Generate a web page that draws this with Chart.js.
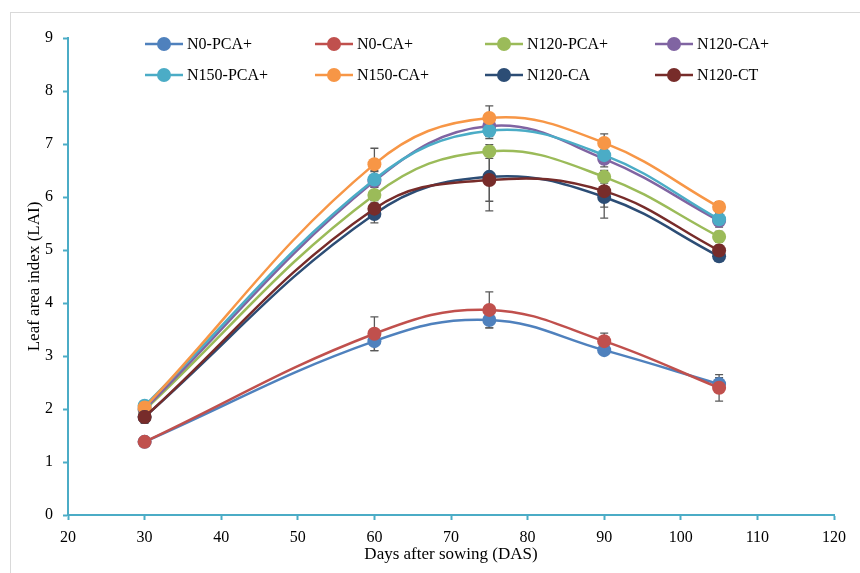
<!DOCTYPE html>
<html>
<head>
<meta charset="utf-8">
<script src="https://cdn.jsdelivr.net/npm/chart.js@4"></script>
<style>
  html, body { margin: 0; padding: 0; background: #fff; }
  #wrap { position: relative; width: 860px; height: 573px; }
</style>
</head>
<body>
<div id="wrap"><canvas id="laiChart" width="860" height="573"></canvas></div>
<script>
// days after sowing
const days = [30, 60, 75, 90, 105];

const seriesNames = ['N0-PCA+', 'N0-CA+', 'N120-PCA+', 'N120-CA+', 'N150-PCA+', 'N150-CA+', 'N120-CA', 'N120-CT'];
const seriesColors = ['#4F81BD', '#C0504D', '#9BBB59', '#8064A2', '#4BACC6', '#F79646', '#2C4D75', '#772C2A'];

// LAI values
const n0Pca = [1.38, 3.28, 3.68, 3.11, 2.47];
const n0Ca = [1.38, 3.42, 3.87, 3.28, 2.40];
const n120Pca = [1.98, 6.04, 6.86, 6.38, 5.25];
const n120Ca = [2.00, 6.30, 7.34, 6.72, 5.55];
const n150Pca = [2.06, 6.33, 7.25, 6.79, 5.58];
const n150Ca = [2.03, 6.62, 7.49, 7.02, 5.81];
const n120CaOnly = [1.85, 5.68, 6.38, 6.00, 4.88];
const n120Ct = [1.85, 5.78, 6.32, 6.11, 4.99];

// standard error bars
const errN0Pca = [0.04, 0.18, 0.15, 0.08, 0.12];
const errN0Ca = [0.04, 0.32, 0.34, 0.15, 0.25];
const errN120Pca = [0.08, 0.15, 0.13, 0.12, 0.10];
const errN120Ca = [0.08, 0.20, 0.20, 0.15, 0.12];
const errN150Pca = [0.06, 0.15, 0.15, 0.10, 0.10];
const errN150Ca = [0.06, 0.30, 0.23, 0.17, 0.10];
const errN120CaOnly = [0.10, 0.17, 0.46, 0.40, 0.08];
const errN120Ct = [0.12, 0.15, 0.58, 0.30, 0.10];

const yTicks = [0, 1, 2, 3, 4, 5, 6, 7, 8, 9];
const xTicks = [20, 30, 40, 50, 60, 70, 80, 90, 100, 110, 120];

const allValues = [n0Pca, n0Ca, n120Pca, n120Ca, n150Pca, n150Ca, n120CaOnly, n120Ct];
const allErrors = [errN0Pca, errN0Ca, errN120Pca, errN120Ca, errN150Pca, errN150Ca, errN120CaOnly, errN120Ct];

const AXIS_COLOR = '#4BACC6';
const FONT = '"Liberation Serif", "Times New Roman", serif';

const datasets = seriesNames.map((name, i) => ({
    label: name,
    data: days.map((d, j) => ({ x: d, y: allValues[i][j] })),
    errors: allErrors[i],
    borderColor: seriesColors[i],
    backgroundColor: seriesColors[i],
    borderWidth: 2.5,
    pointRadius: 7,
    pointHoverRadius: 7,
    pointBorderWidth: 0,
    tension: 0.4,
    order: seriesNames.length - i
}));

const errorBarPlugin = {
    id: 'errorBars',
    beforeDatasetsDraw(chart) {
        const ctx = chart.ctx;
        const xs = chart.scales.x, ys = chart.scales.y;
        ctx.save();
        ctx.strokeStyle = '#595959';
        ctx.lineWidth = 1.3;
        chart.data.datasets.forEach(ds => {
            ds.data.forEach((p, j) => {
                const e = ds.errors[j];
                const px = xs.getPixelForValue(p.x);
                const top = ys.getPixelForValue(p.y + e);
                const bot = ys.getPixelForValue(p.y - e);
                ctx.beginPath();
                ctx.moveTo(px, top); ctx.lineTo(px, bot);
                ctx.moveTo(px - 4, top); ctx.lineTo(px + 4, top);
                ctx.moveTo(px - 4, bot); ctx.lineTo(px + 4, bot);
                ctx.stroke();
            });
        });
        ctx.restore();
    }
};

const legendPlugin = {
    id: 'boxLegend',
    afterDraw(chart) {
        const ctx = chart.ctx;
        ctx.save();
        ctx.font = '16px ' + FONT;
        ctx.textBaseline = 'middle';
        ctx.fillStyle = '#000';
        chart.data.datasets.forEach((ds, i) => {
            const col = i % 4, row = Math.floor(i / 4);
            const x0 = 145 + col * 170;
            const y0 = 44 + row * 31;
            ctx.strokeStyle = ds.borderColor;
            ctx.lineWidth = 2.5;
            ctx.beginPath();
            ctx.moveTo(x0, y0); ctx.lineTo(x0 + 38, y0);
            ctx.stroke();
            ctx.fillStyle = ds.backgroundColor;
            ctx.beginPath();
            ctx.arc(x0 + 19, y0, 7, 0, Math.PI * 2);
            ctx.fill();
            ctx.fillStyle = '#000';
            ctx.fillText(ds.label, x0 + 42, y0 + 1);
        });
        ctx.restore();
    }
};

const framePlugin = {
    id: 'frame',
    beforeDraw(chart) {
        const ctx = chart.ctx;
        ctx.save();
        ctx.strokeStyle = '#D9D9D9';
        ctx.lineWidth = 1;
        ctx.strokeRect(10.5, 12.5, 900, 600);
        ctx.restore();
    }
};

new Chart(document.getElementById('laiChart'), {
    type: 'line',
    data: { datasets },
    options: {
        responsive: false,
        animation: false,
        devicePixelRatio: 1,
        layout: { padding: { left: 24, top: 38, right: 26, bottom: 8 } },
        plugins: { legend: { display: false }, tooltip: { enabled: false } },
        scales: {
            x: {
                type: 'linear',
                min: 20, max: 120,
                afterBuildTicks: s => { s.ticks = xTicks.map(v => ({ value: v })); },
                afterFit: s => { s.height = 50; },
                border: { color: AXIS_COLOR, width: 2 },
                grid: { drawOnChartArea: false, drawTicks: true, tickLength: 5, tickColor: AXIS_COLOR, tickWidth: 2 },
                ticks: { color: '#000', font: { family: FONT, size: 16 }, padding: 8, maxRotation: 0 },
                title: { display: true, text: 'Days after sowing (DAS)', color: '#000', font: { family: FONT, size: 17 }, padding: { top: 0, bottom: 0 } }
            },
            y: {
                min: 0, max: 9,
                afterBuildTicks: s => { s.ticks = yTicks.map(v => ({ value: v })); },
                afterFit: s => { s.width = 44; },
                border: { color: AXIS_COLOR, width: 2 },
                grid: { drawOnChartArea: false, drawTicks: true, tickLength: 5, tickColor: AXIS_COLOR, tickWidth: 2 },
                ticks: { color: '#000', font: { family: FONT, size: 16 }, padding: 10 },
                title: { display: true, text: 'Leaf area index (LAI)', color: '#000', font: { family: FONT, size: 17 }, padding: { top: 0, bottom: 0 } }
            }
        }
    },
    plugins: [framePlugin, errorBarPlugin, legendPlugin]
});
</script>
</body>
</html>
